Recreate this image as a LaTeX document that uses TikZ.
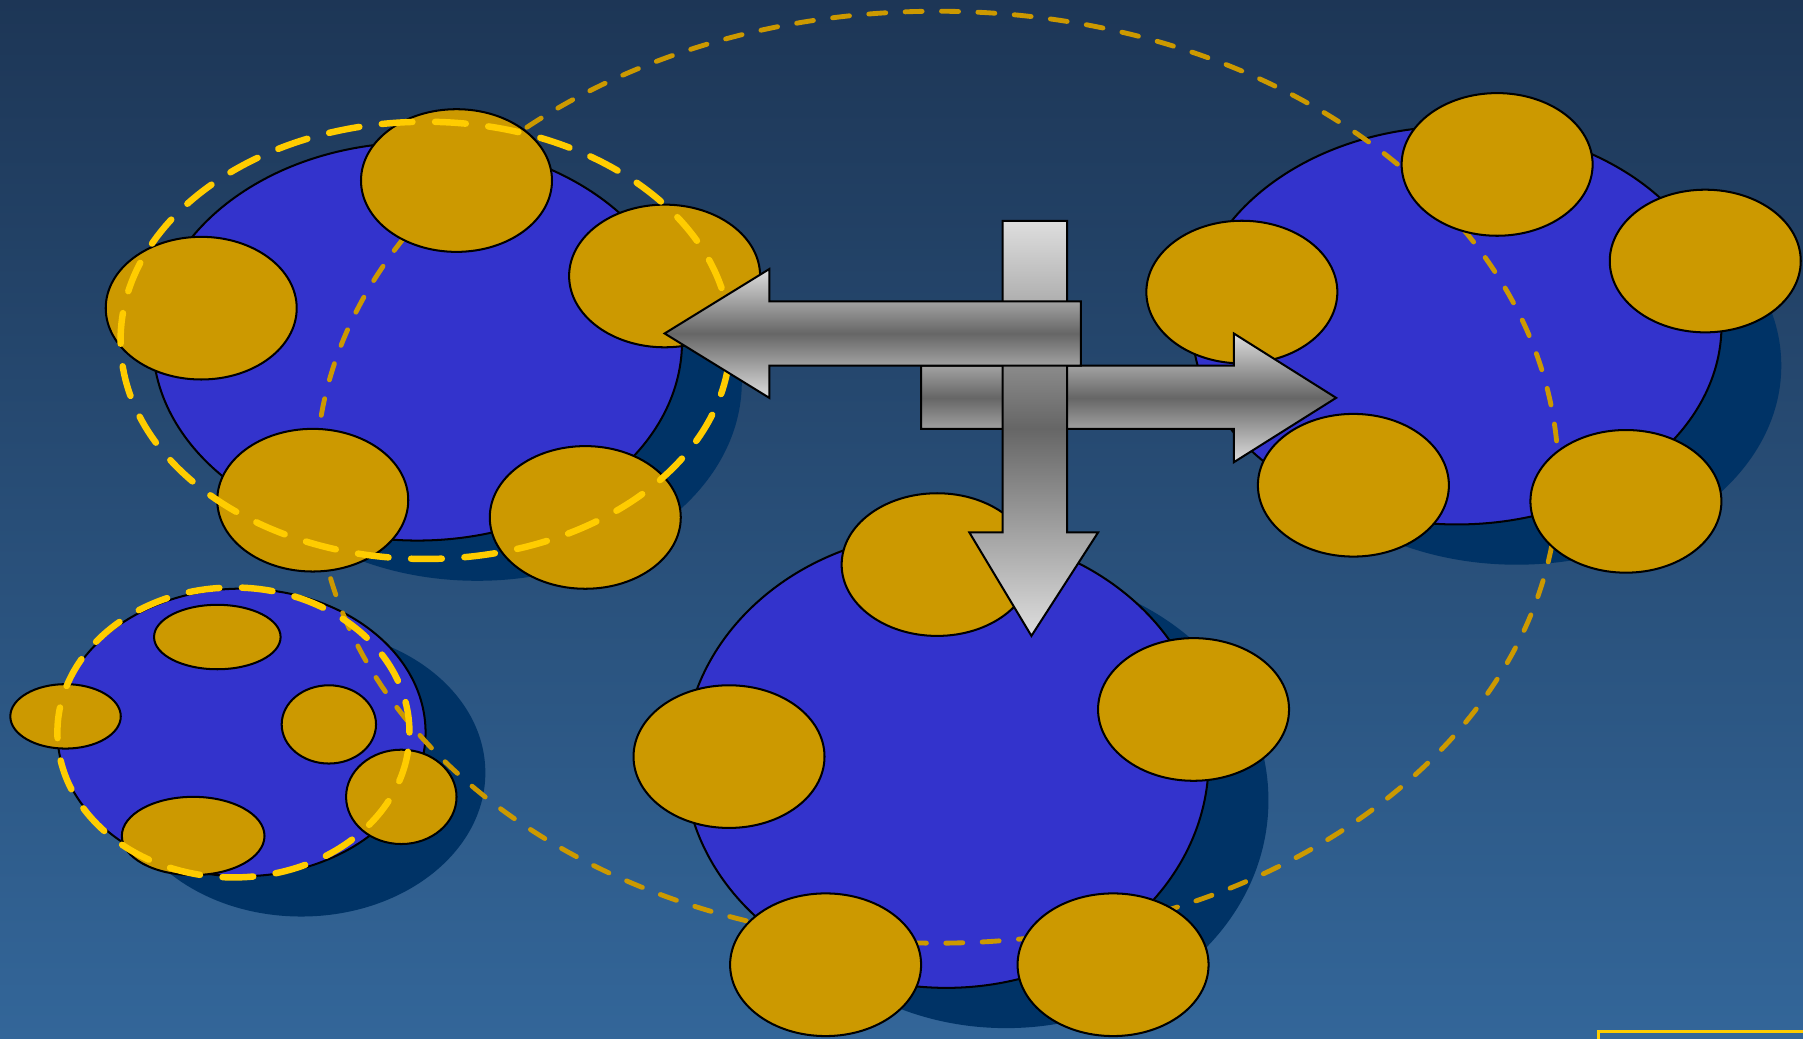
\documentclass[tikz,border=0pt]{standalone}
\usetikzlibrary{shapes.geometric}
\definecolor{bgtop}{RGB}{29,54,86}
\definecolor{bgbottom}{RGB}{51,102,153}
\definecolor{blobblue}{RGB}{51,51,204}
\definecolor{blobshadow}{RGB}{0,51,102}
\definecolor{seedgold}{RGB}{204,153,0}
\definecolor{ringyellow}{RGB}{255,204,0}
\definecolor{metallight}{RGB}{222,222,222}
\definecolor{metaldark}{RGB}{102,102,102}
\begin{document}
\begin{tikzpicture}
[x=0.01cm,y=-0.01cm,
every node/.style={shape=ellipse,inner sep=0pt},
blob/.style={draw=black,line width=0.5pt,fill=blobblue},
underlay/.style={fill=blobshadow},
seed/.style={draw=black,line width=0.5pt,fill=seedgold,minimum width=1.66cm,minimum height=1.24cm},
ring/.style={draw=ringyellow,line width=1.6pt,line cap=round,dash pattern=on 7.6pt off 5.6pt},
orbit/.style={draw=seedgold,line width=1.2pt,line cap=round,dash pattern=on 4.2pt off 4.8pt},
metal/.style={draw=black,line width=0.5pt,top color=metallight,bottom color=metallight,middle color=metaldark}]

\clip (0,0) rectangle (1568,903);
\shade[top color=bgtop,bottom color=bgbottom] (0,0) rectangle (1568,903);

\node[underlay,minimum width=4.60cm,minimum height=3.46cm] (u1) at (415,332) {};
\node[blob,minimum width=4.60cm,minimum height=3.46cm] (b1) at (363,297) {};
\node[underlay,minimum width=4.60cm,minimum height=3.46cm] (u2) at (1319,318) {};
\node[blob,minimum width=4.60cm,minimum height=3.46cm] (b2) at (1267,283) {};
\node[underlay,minimum width=4.56cm,minimum height=3.96cm] (u3) at (875,696) {};
\node[blob,minimum width=4.56cm,minimum height=3.96cm] (b3) at (823,661) {};
\node[underlay,minimum width=3.20cm,minimum height=2.50cm] (u4) at (262,672) {};
\node[blob,minimum width=3.20cm,minimum height=2.50cm] (b4) at (210,637) {};

\node[orbit,minimum width=10.80cm,minimum height=8.10cm] (orbit) at (815,415) {};

\node[seed] (s11) at (397,157) {};
\node[seed] (s12) at (175,268) {};
\node[seed] (s13) at (578,240) {};
\node[seed] (s14) at (272,435) {};
\node[seed] (s15) at (509,450) {};

\node[seed] (s21) at (1302,143) {};
\node[seed] (s22) at (1483,227) {};
\node[seed] (s23) at (1080,254) {};
\node[seed] (s24) at (1177,422) {};
\node[seed] (s25) at (1414,436) {};

\node[seed] (s31) at (815,491) {};
\node[seed] (s32) at (1038,617) {};
\node[seed] (s33) at (634,658) {};
\node[seed] (s34) at (718,839) {};
\node[seed] (s35) at (968,839) {};

\node[seed,minimum width=1.10cm,minimum height=0.56cm] (s41) at (189,554) {};
\node[seed,minimum width=0.96cm,minimum height=0.56cm] (s42) at (57,623) {};
\node[seed,minimum width=0.82cm,minimum height=0.68cm] (s43) at (286,630) {};
\node[seed,minimum width=0.96cm,minimum height=0.82cm] (s44) at (349,693) {};
\node[seed,minimum width=1.24cm,minimum height=0.68cm] (s45) at (168,727) {};

\node[ring,minimum width=5.30cm,minimum height=3.80cm] (r1) at (370,296) {};
\node[ring,minimum width=3.06cm,minimum height=2.52cm] (r4) at (203,637) {};

\path[metal] (801,318) -- (1073,318) -- (1073,290) -- (1162,346) -- (1073,402) -- (1073,373) -- (801,373) -- cycle;
\path[metal] (872,192) -- (928,192) -- (928,463) -- (955,463) -- (897,553) -- (843,463) -- (872,463) -- cycle;
\path[metal] (940,262) -- (940,318) -- (669,318) -- (669,346) -- (578,290) -- (669,234) -- (669,262) -- cycle;

\draw[ringyellow,line width=0.8pt] (1390,897) rectangle (1600,960);
\end{tikzpicture}
\end{document}
